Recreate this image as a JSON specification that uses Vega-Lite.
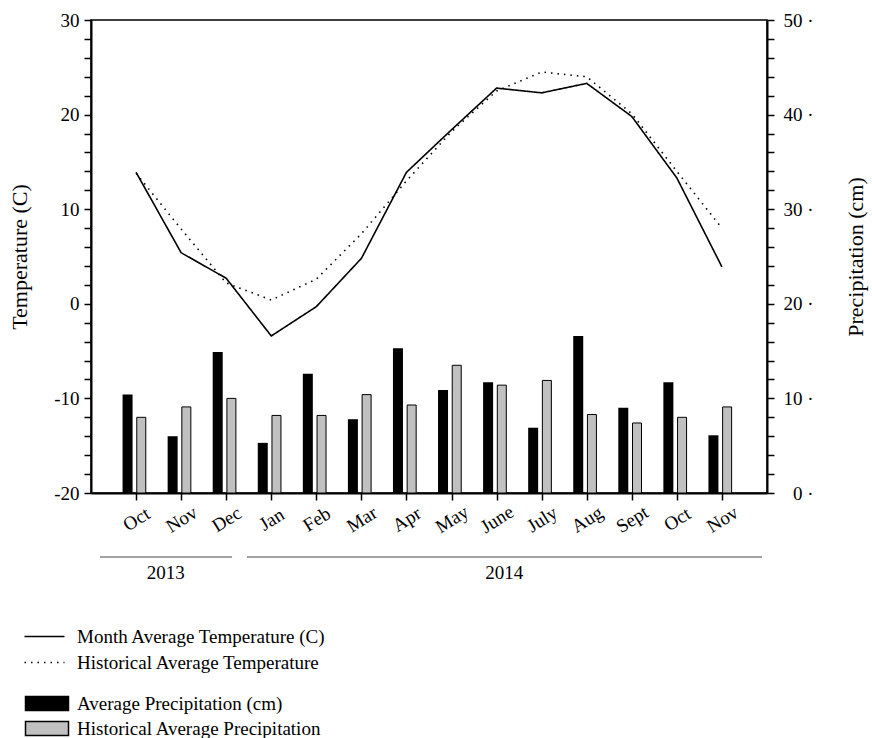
{
  "$schema": "https://vega.github.io/schema/vega-lite/v6.json",
  "width": 676,
  "height": 473,
  "autosize": "none",
  "padding": {"left": 91, "top": 20, "right": 105, "bottom": 245},
  "background": "white",
  "config": {
    "font": "Liberation Serif",
    "view": {"stroke": "black", "strokeWidth": 1.5},
    "axis": {
      "labelFont": "Liberation Serif",
      "titleFont": "Liberation Serif",
      "labelColor": "black",
      "titleColor": "black",
      "titleFontWeight": "normal",
      "domainColor": "black",
      "tickColor": "black",
      "grid": false,
      "labelFontSize": 19,
      "titleFontSize": 22,
      "domainWidth": 2,
      "tickWidth": 1.5,
      "labelOverlap": false,
      "labelBound": false
    },
    "legend": {
      "labelFont": "Liberation Serif",
      "labelFontSize": 19,
      "labelColor": "black",
      "labelLimit": 400,
      "padding": 0,
      "offset": 0
    }
  },
  "datasets": {
    "temp": [
      {"i": 1, "series": "Month Average Temperature (C)", "t": 13.9},
      {"i": 2, "series": "Month Average Temperature (C)", "t": 5.4},
      {"i": 3, "series": "Month Average Temperature (C)", "t": 2.7},
      {"i": 4, "series": "Month Average Temperature (C)", "t": -3.4},
      {"i": 5, "series": "Month Average Temperature (C)", "t": -0.3},
      {"i": 6, "series": "Month Average Temperature (C)", "t": 4.8},
      {"i": 7, "series": "Month Average Temperature (C)", "t": 13.9},
      {"i": 8, "series": "Month Average Temperature (C)", "t": 18.4},
      {"i": 9, "series": "Month Average Temperature (C)", "t": 22.8},
      {"i": 10, "series": "Month Average Temperature (C)", "t": 22.3},
      {"i": 11, "series": "Month Average Temperature (C)", "t": 23.3},
      {"i": 12, "series": "Month Average Temperature (C)", "t": 19.8},
      {"i": 13, "series": "Month Average Temperature (C)", "t": 13.3},
      {"i": 14, "series": "Month Average Temperature (C)", "t": 3.9},
      {"i": 1, "series": "Historical Average Temperature", "t": 13.8},
      {"i": 2, "series": "Historical Average Temperature", "t": 7.9},
      {"i": 3, "series": "Historical Average Temperature", "t": 2.2},
      {"i": 4, "series": "Historical Average Temperature", "t": 0.4},
      {"i": 5, "series": "Historical Average Temperature", "t": 2.6},
      {"i": 6, "series": "Historical Average Temperature", "t": 7.4},
      {"i": 7, "series": "Historical Average Temperature", "t": 13.0},
      {"i": 8, "series": "Historical Average Temperature", "t": 18.2},
      {"i": 9, "series": "Historical Average Temperature", "t": 22.5},
      {"i": 10, "series": "Historical Average Temperature", "t": 24.5},
      {"i": 11, "series": "Historical Average Temperature", "t": 24.0},
      {"i": 12, "series": "Historical Average Temperature", "t": 20.1},
      {"i": 13, "series": "Historical Average Temperature", "t": 14.0},
      {"i": 14, "series": "Historical Average Temperature", "t": 8.0}
    ],
    "precip": [
      {"i": 1, "series": "Average Precipitation (cm)", "p": 10.4},
      {"i": 2, "series": "Average Precipitation (cm)", "p": 6.0},
      {"i": 3, "series": "Average Precipitation (cm)", "p": 14.9},
      {"i": 4, "series": "Average Precipitation (cm)", "p": 5.3},
      {"i": 5, "series": "Average Precipitation (cm)", "p": 12.6},
      {"i": 6, "series": "Average Precipitation (cm)", "p": 7.8},
      {"i": 7, "series": "Average Precipitation (cm)", "p": 15.3},
      {"i": 8, "series": "Average Precipitation (cm)", "p": 10.9},
      {"i": 9, "series": "Average Precipitation (cm)", "p": 11.7},
      {"i": 10, "series": "Average Precipitation (cm)", "p": 6.9},
      {"i": 11, "series": "Average Precipitation (cm)", "p": 16.6},
      {"i": 12, "series": "Average Precipitation (cm)", "p": 9.0},
      {"i": 13, "series": "Average Precipitation (cm)", "p": 11.7},
      {"i": 14, "series": "Average Precipitation (cm)", "p": 6.1},
      {"i": 1, "series": "Historical Average Precipitation", "p": 8.0},
      {"i": 2, "series": "Historical Average Precipitation", "p": 9.1},
      {"i": 3, "series": "Historical Average Precipitation", "p": 10.0},
      {"i": 4, "series": "Historical Average Precipitation", "p": 8.2},
      {"i": 5, "series": "Historical Average Precipitation", "p": 8.2},
      {"i": 6, "series": "Historical Average Precipitation", "p": 10.4},
      {"i": 7, "series": "Historical Average Precipitation", "p": 9.3},
      {"i": 8, "series": "Historical Average Precipitation", "p": 13.5},
      {"i": 9, "series": "Historical Average Precipitation", "p": 11.4},
      {"i": 10, "series": "Historical Average Precipitation", "p": 11.9},
      {"i": 11, "series": "Historical Average Precipitation", "p": 8.3},
      {"i": 12, "series": "Historical Average Precipitation", "p": 7.4},
      {"i": 13, "series": "Historical Average Precipitation", "p": 8.0},
      {"i": 14, "series": "Historical Average Precipitation", "p": 9.1}
    ],
    "years": [
      {"year": "2013", "start": 0.2, "end": 3.13, "mid": 1.66},
      {"year": "2014", "start": 3.46, "end": 14.89, "mid": 9.17}
    ]
  },
  "layer": [
    {
      "data": {"name": "precip"},
      "layer": [
        {
          "transform": [{"filter": "datum.series === 'Average Precipitation (cm)'"}],
          "mark": {"type": "bar", "width": 10, "xOffset": -8.5, "stroke": "black", "strokeWidth": 0},
          "encoding": {
            "x": {
              "field": "i", "type": "quantitative",
              "scale": {"domain": [0, 15], "nice": false, "zero": false, "padding": 0},
              "axis": {
                "title": null,
                "values": [1, 2, 3, 4, 5, 6, 7, 8, 9, 10, 11, 12, 13, 14],
                "tickCount": 30,
                "labelExpr": "['','Oct','Nov','Dec','Jan','Feb','Mar','Apr','May','June','July','Aug','Sept','Oct','Nov'][datum.value]",
                "labelAngle": -32,
                "labelAlign": "center",
                "labelBaseline": "middle",
                "labelPadding": 19,
                "labelDx": -7,
                "tickSize": 7,
                "labelFlush": false
              }
            },
            "y": {
              "field": "p", "type": "quantitative",
              "scale": {"domain": [0, 50], "nice": false},
              "axis": {
                "orient": "right",
                "title": "Precipitation (cm)",
                "values": [0, 2, 4, 6, 8, 10, 12, 14, 16, 18, 20, 22, 24, 26, 28, 30, 32, 34, 36, 38, 40, 42, 44, 46, 48, 50],
                "tickCount": 60,
                "labelExpr": "datum.value % 10 === 0 ? datum.label + ' \u00b7' : ''",
                "labelAlign": "right",
                "labelBaseline": "middle",
                "labelPadding": 39,
                "tickSize": 7,
                "titleAngle": -90,
                "titlePadding": 54
              }
            },
            "fill": {
              "field": "series", "type": "nominal",
              "scale": {"domain": ["Average Precipitation (cm)", "Historical Average Precipitation"], "range": ["black", "#c0c0c0"]},
              "legend": {
                "title": null,
                "orient": "none",
                "legendX": -67,
                "legendY": 674,
                "symbolType": "M-1,-0.875L4.375,-0.875L4.375,0.875L-1,0.875Z",
                "symbolSize": 256,
                "symbolStrokeColor": "black",
                "symbolStrokeWidth": 1.5,
                "labelOffset": 34,
                "rowPadding": 4
              }
            }
          }
        },
        {
          "transform": [{"filter": "datum.series === 'Historical Average Precipitation'"}],
          "mark": {"type": "bar", "width": 9, "xOffset": 5.2, "stroke": "black", "strokeWidth": 1},
          "encoding": {
            "x": {"field": "i", "type": "quantitative"},
            "y": {"field": "p", "type": "quantitative"},
            "fill": {"field": "series", "type": "nominal"}
          }
        }
      ]
    },
    {
      "layer": [
        {
          "data": {"name": "temp"},
          "mark": {"type": "line", "color": "black", "strokeWidth": 1.6},
          "encoding": {
            "x": {"field": "i", "type": "quantitative"},
            "y": {
              "field": "t", "type": "quantitative",
              "scale": {"domain": [-20, 30], "nice": false, "zero": false},
              "axis": {
                "orient": "left",
                "title": "Temperature (C)",
                "values": [-20, -18, -16, -14, -12, -10, -8, -6, -4, -2, 0, 2, 4, 6, 8, 10, 12, 14, 16, 18, 20, 22, 24, 26, 28, 30],
                "tickCount": 60,
                "labelExpr": "datum.value % 10 === 0 ? replace(datum.label, '\u2212', '-') : ''",
                "labelPadding": 5,
                "tickSize": 7,
                "titlePadding": 22
              }
            },
            "strokeDash": {
              "field": "series", "type": "nominal",
              "scale": {"domain": ["Month Average Temperature (C)", "Historical Average Temperature"], "range": [[1, 0], [1.5, 5]]},
              "legend": {
                "title": null,
                "orient": "none",
                "legendX": -68,
                "legendY": 607,
                "symbolType": "M-1,0L4,0",
                "symbolSize": 256,
                "symbolStrokeColor": "black",
                "symbolStrokeWidth": 1.5,
                "labelOffset": 35,
                "rowPadding": 6
              }
            }
          }
        },
        {
          "data": {"name": "years"},
          "mark": {"type": "rule", "color": "#444444", "strokeWidth": 1, "yOffset": 64},
          "encoding": {
            "x": {"field": "start", "type": "quantitative"},
            "x2": {"field": "end"},
            "y": {"datum": -20}
          }
        },
        {
          "data": {"name": "years"},
          "mark": {"type": "text", "fontSize": 19, "color": "black", "baseline": "middle", "dy": 80},
          "encoding": {
            "x": {"field": "mid", "type": "quantitative"},
            "y": {"datum": -20},
            "text": {"field": "year"}
          }
        }
      ]
    }
  ],
  "resolve": {"scale": {"y": "independent"}}
}
